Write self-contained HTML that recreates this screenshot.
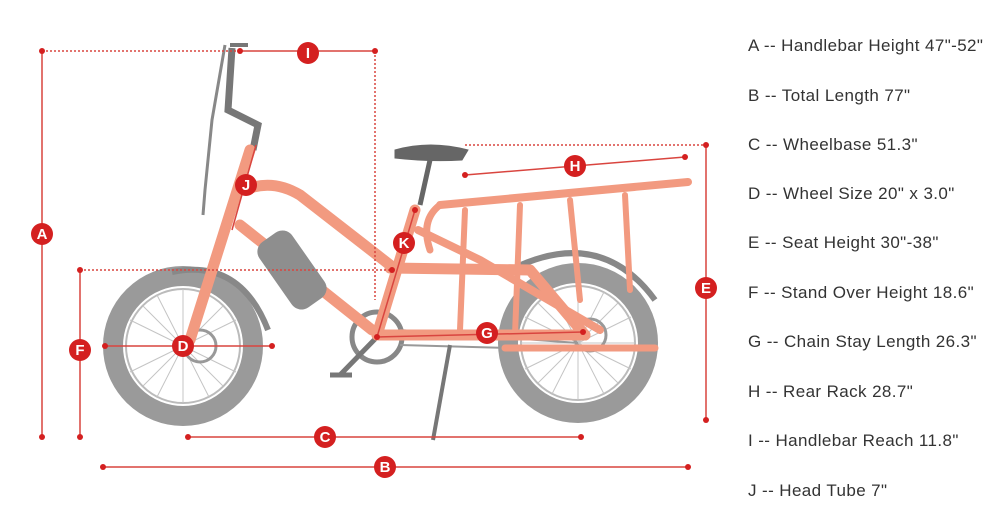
<!DOCTYPE html>
<html><head><meta charset="utf-8"><style>
html,body{margin:0;padding:0;background:#fff;}
body{width:1000px;height:528px;overflow:hidden;position:relative;font-family:"Liberation Sans",sans-serif;}
.t{position:absolute;left:748px;font-size:17px;letter-spacing:0.4px;color:#333;white-space:nowrap;line-height:20px;}
svg{position:absolute;left:0;top:0;}
</style></head><body>
<svg width="1000" height="528" viewBox="0 0 1000 528">
<g fill="none">
<circle cx="183" cy="346" r="70" stroke="#9a9a9a" stroke-width="20"/>
<circle cx="183" cy="346" r="57" stroke="#bbb" stroke-width="2"/>
<circle cx="578" cy="343" r="70" stroke="#9a9a9a" stroke-width="20"/>
<circle cx="578" cy="343" r="57" stroke="#bbb" stroke-width="2"/>
<g stroke="#c4c4c4" stroke-width="1">
<path d="M126 346H240M183 289V403M143 306L223 386M223 306L143 386M130 320L236 372M130 372L236 320M157 295L209 397M209 295L157 397"/>
<path d="M521 343H635M578 286V400M538 303L618 383M618 303L538 383M525 317L631 369M525 369L631 317M552 292L604 394M604 292L552 394"/>
</g>
<circle cx="200" cy="346" r="16" stroke="#999" stroke-width="3"/>
<circle cx="590" cy="335" r="16" stroke="#999" stroke-width="3"/>
<path d="M172 272 Q240 258 268 330" stroke="#888" stroke-width="6"/>
<path d="M510 270 Q600 225 655 300" stroke="#888" stroke-width="6"/>
<circle cx="377" cy="337" r="25" stroke="#888" stroke-width="5"/>
<path d="M377 337L340 375M330 375h22" stroke="#777" stroke-width="5"/>
<path d="M400 330L578 343M400 345L578 350" stroke="#999" stroke-width="2"/>
<path d="M450 345L433 440" stroke="#777" stroke-width="4"/>
<path d="M232 48L228 110L258 125L253 150" stroke="#777" stroke-width="7"/>
<path d="M225 45L212 120L205 190L203 215" stroke="#888" stroke-width="3"/>
<path d="M230 45L248 45" stroke="#777" stroke-width="4"/>
<path d="M395 150Q430 140 468 150L462 160Q430 162 395 158Z" fill="#666" stroke="#666"/>
<path d="M430 160L420 205" stroke="#666" stroke-width="5"/>
<g stroke="#f29a80" stroke-width="11" stroke-linecap="round" stroke-linejoin="round">
<path d="M250 150L190 340"/>
<path d="M250 188Q275 180 300 195L390 265"/>
<path d="M240 225L372 330"/>
<path d="M415 210L377 335"/>
<path d="M377 335L585 335"/>
<path d="M390 268L530 270L585 335"/>
<path d="M418 230L480 260L600 330" stroke-width="8"/>
<path d="M440 205L688 182" stroke-width="8"/>
<path d="M440 205Q420 220 430 250" stroke-width="7"/>
<path d="M465 210L460 330M520 205L515 335M570 200L580 300M625 195L630 290" stroke-width="6"/>
<path d="M505 348L655 348" stroke-width="7"/>
</g>
<rect x="272" y="230" width="40" height="80" rx="12" fill="#8e8e8e" transform="rotate(-35 292 270)"/>
</g>
<g stroke="#d9453f" stroke-width="1.5" fill="none">
<path d="M42 51H240" stroke-dasharray="2 2"/>
<path d="M240 51H375"/>
<path d="M375 51V300" stroke-dasharray="2 2"/>
<path d="M42 51V437"/>
<path d="M80 270H392" stroke-dasharray="2 2"/>
<path d="M80 270V437"/>
<path d="M105 346H272"/>
<path d="M465 145H706" stroke-dasharray="2 2"/>
<path d="M706 145V420"/>
<path d="M465 175L685 157"/>
<path d="M377 337L583 332"/>
<path d="M377 337L415 210"/>
<path d="M256 145L232 230"/>
<path d="M188 437H581"/>
<path d="M103 467H688"/>
</g>
<g fill="#d42020">
<circle cx="42" cy="51" r="3"/><circle cx="42" cy="437" r="3"/><circle cx="375" cy="51" r="3"/><circle cx="240" cy="51" r="3"/>
<circle cx="80" cy="270" r="3"/><circle cx="80" cy="437" r="3"/><circle cx="392" cy="270" r="3"/>
<circle cx="105" cy="346" r="3"/><circle cx="272" cy="346" r="3"/>
<circle cx="706" cy="145" r="3"/><circle cx="706" cy="420" r="3"/>
<circle cx="465" cy="175" r="3"/><circle cx="685" cy="157" r="3"/>
<circle cx="377" cy="337" r="3"/><circle cx="583" cy="332" r="3"/><circle cx="415" cy="210" r="3"/>
<circle cx="188" cy="437" r="3"/><circle cx="581" cy="437" r="3"/>
<circle cx="103" cy="467" r="3"/><circle cx="688" cy="467" r="3"/>
</g>
<g font-family="Liberation Sans,sans-serif" font-size="15" font-weight="bold" fill="#fff" text-anchor="middle">
<g fill="#d42020"><circle cx="42" cy="234" r="11"/><circle cx="308" cy="53" r="11"/><circle cx="575" cy="166" r="11"/><circle cx="706" cy="288" r="11"/><circle cx="80" cy="350" r="11"/><circle cx="183" cy="346" r="11"/><circle cx="487" cy="333" r="11"/><circle cx="404" cy="243" r="11"/><circle cx="246" cy="185" r="11"/><circle cx="325" cy="437" r="11"/><circle cx="385" cy="467" r="11"/></g>
<text x="42" y="239">A</text><text x="308" y="58">I</text><text x="575" y="171">H</text><text x="706" y="293">E</text><text x="80" y="355">F</text><text x="183" y="351">D</text><text x="487" y="338">G</text><text x="404" y="248">K</text><text x="246" y="190">J</text><text x="325" y="442">C</text><text x="385" y="472">B</text>
</g>
</svg>
<div class="t" style="top:36px">A -- Handlebar Height 47"-52"</div>
<div class="t" style="top:86px">B -- Total Length 77"</div>
<div class="t" style="top:135px">C -- Wheelbase 51.3"</div>
<div class="t" style="top:184px">D -- Wheel Size 20" x 3.0"</div>
<div class="t" style="top:233px">E -- Seat Height 30"-38"</div>
<div class="t" style="top:283px">F -- Stand Over Height 18.6"</div>
<div class="t" style="top:332px">G -- Chain Stay Length 26.3"</div>
<div class="t" style="top:382px">H -- Rear Rack 28.7"</div>
<div class="t" style="top:431px">I -- Handlebar Reach 11.8"</div>
<div class="t" style="top:481px">J -- Head Tube 7"</div>
</body></html>
